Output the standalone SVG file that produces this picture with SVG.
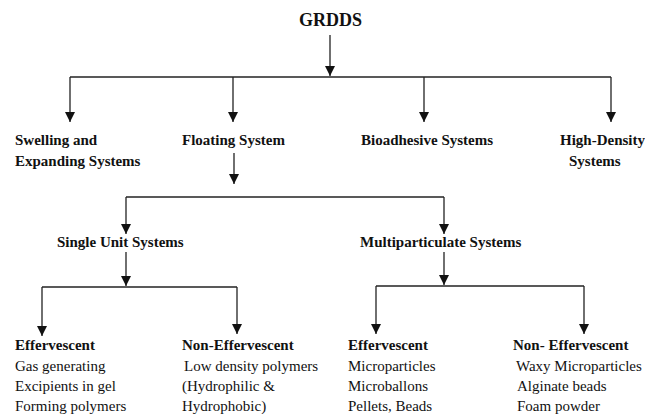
<svg xmlns="http://www.w3.org/2000/svg" width="645" height="414" viewBox="0 0 645 414">
<style>
text{font-family:"Liberation Serif","Times New Roman",serif;fill:#111;font-size:15px}
.b{font-weight:bold}
.t{font-size:18px;font-weight:bold}
.c line{stroke:#222;stroke-width:1.3;fill:none}
</style>
<defs>
<marker id="ah" markerUnits="userSpaceOnUse" markerWidth="10" markerHeight="10" viewBox="0 0 10 10" refX="5" refY="10" orient="auto-start-reverse">
<path d="M0,0 L10,0 L5,10 Z" fill="#111" transform="rotate(-90 5 5)"/>
</marker>
<marker id="a" markerUnits="userSpaceOnUse" markerWidth="10" markerHeight="10" viewBox="0 0 10 10" refX="10" refY="5" orient="auto">
<path d="M0,0 L10,5 L0,10 Z" fill="#111"/>
</marker>
</defs>
<rect width="645" height="414" fill="#fff"/>
<g id="connectors" class="c">
<line x1="330" y1="35" x2="330" y2="76" marker-end="url(#a)"/>
<line x1="70" y1="77" x2="611" y2="77"/>
<line x1="70" y1="77" x2="70" y2="122" marker-end="url(#a)"/>
<line x1="233" y1="77" x2="233" y2="122" marker-end="url(#a)"/>
<line x1="424" y1="77" x2="424" y2="122" marker-end="url(#a)"/>
<line x1="611" y1="77" x2="611" y2="122" marker-end="url(#a)"/>
<line x1="234" y1="153" x2="234" y2="184" marker-end="url(#a)"/>
<line x1="126" y1="197" x2="444" y2="197"/>
<line x1="126" y1="197" x2="126" y2="234" marker-end="url(#a)"/>
<line x1="444" y1="197" x2="444" y2="234" marker-end="url(#a)"/>
<line x1="126" y1="252" x2="126" y2="286" marker-end="url(#a)"/>
<line x1="42" y1="287" x2="237" y2="287"/>
<line x1="42" y1="287" x2="42" y2="336" marker-end="url(#a)"/>
<line x1="237" y1="287" x2="237" y2="334" marker-end="url(#a)"/>
<line x1="444" y1="252" x2="444" y2="285" marker-end="url(#a)"/>
<line x1="376" y1="286" x2="584" y2="286"/>
<line x1="376" y1="286" x2="376" y2="334" marker-end="url(#a)"/>
<line x1="584" y1="286" x2="584" y2="334" marker-end="url(#a)"/>
</g>
<g id="grdds"><text class="t" x="299" y="26">GRDDS</text></g>
<g id="swelling"><text class="b" x="15" y="145">Swelling and</text><text class="b" x="15" y="166">Expanding Systems</text></g>
<g id="floating"><text class="b" x="182" y="145">Floating System</text></g>
<g id="bioadhesive"><text class="b" x="361" y="145">Bioadhesive Systems</text></g>
<g id="highdensity"><text class="b" x="560" y="145">High-Density</text><text class="b" x="569" y="166">Systems</text></g>
<g id="single"><text class="b" x="57" y="247">Single Unit Systems</text></g>
<g id="multi"><text class="b" x="360" y="247">Multiparticulate Systems</text></g>
<g id="eff1"><text class="b" x="15" y="350">Effervescent</text><text x="15" y="371">Gas generating</text><text x="15" y="391">Excipients in gel</text><text x="15" y="411">Forming polymers</text></g>
<g id="noneff1"><text class="b" x="182" y="350">Non-Effervescent</text><text x="184" y="371">Low density polymers</text><text x="182" y="391">(Hydrophilic &amp;</text><text x="182" y="411">Hydrophobic)</text></g>
<g id="eff2"><text class="b" x="348" y="350">Effervescent</text><text x="348" y="371">Microparticles</text><text x="348" y="391">Microballons</text><text x="348" y="411">Pellets, Beads</text></g>
<g id="noneff2"><text class="b" x="513" y="350">Non- Effervescent</text><text x="516" y="371">Waxy Microparticles</text><text x="517" y="391">Alginate beads</text><text x="517" y="411">Foam powder</text></g>
</svg>
